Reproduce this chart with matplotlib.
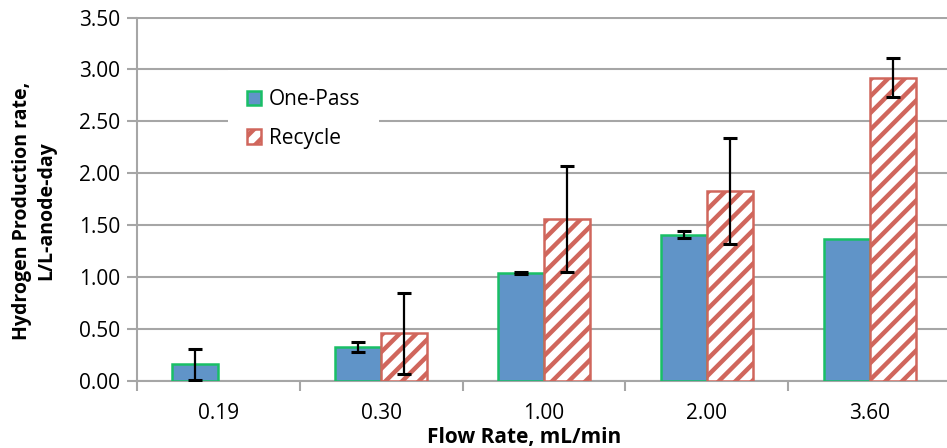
import numpy as np
from matplotlib import pyplot as plt
from matplotlib.patches import Patch

flow_rates = ['0.19', '0.30', '1.00', '2.00', '3.60']
one_pass = [0.16, 0.33, 1.04, 1.41, 1.37]
one_pass_err = [0.15, 0.05, 0.005, 0.03, 0.0]
recycle = [0.0, 0.46, 1.56, 1.83, 2.92]
recycle_err = [0.0, 0.39, 0.51, 0.51, 0.19]

plt.rcParams['font.family'] = ['Open Sans', 'DejaVu Sans']
plt.rcParams['hatch.linewidth'] = 3.2
plt.rcParams['hatch.color'] = '#d0665c'

fig = plt.figure(figsize=(9.47, 4.48), dpi=100)
ax = fig.add_axes([137 / 947, 67 / 448, 814 / 947, 363.5 / 448])

x = np.arange(len(flow_rates))
w = 0.283

blue = '#6094c8'
green = '#19bf66'
red = '#d0665c'
grid = '#a6a6a6'

op = np.array(one_pass)
rc = np.array(recycle)
op_e = np.array(one_pass_err)
rc_e = np.array(recycle_err)
m_op = op > 0
m_rc = rc > 0

ax.bar((x - w / 2)[m_op], op[m_op], w, color=blue, edgecolor=green, linewidth=1.8, zorder=3)
ax.bar((x + w / 2)[m_rc], rc[m_rc], w, color='white', edgecolor=red, hatch='//',
       linewidth=1.8, zorder=3)

# skip error bars that are zero
e1 = op_e > 0
e2 = rc_e > 0
ax.errorbar((x - w / 2)[e1], op[e1], yerr=op_e[e1], fmt='none', ecolor='black',
            elinewidth=1.6, capsize=4.8, capthick=2.2, zorder=4)
ax.errorbar((x + w / 2)[e2], rc[e2], yerr=rc_e[e2], fmt='none', ecolor='black',
            elinewidth=1.6, capsize=4.8, capthick=2.2, zorder=4)

ax.set_xlim(-0.5, len(flow_rates) - 0.5)
ax.set_ylim(0, 3.5)
yt = np.arange(0, 3.51, 0.5)
ax.set_yticks(yt)
ax.set_yticklabels(['%.2f' % v for v in yt])
ax.set_xticks(x)
ax.set_xticklabels(flow_rates)
ax.set_xticks(np.arange(-0.5, len(flow_rates), 1), minor=True)
ax.tick_params(axis='x', which='major', length=0, pad=16, labelsize=15)
ax.tick_params(axis='x', which='minor', length=7, width=1.5, color=grid)
ax.tick_params(axis='y', length=7, width=1.5, color=grid, labelsize=15, pad=5)

ax.yaxis.grid(True, color=grid, linewidth=1.5, zorder=0)
ax.set_axisbelow(True)
for s in ['top', 'right']:
    ax.spines[s].set_visible(False)
for s in ['left', 'bottom']:
    ax.spines[s].set_color(grid)
    ax.spines[s].set_linewidth(1.5)

fig.text(34 / 947, 1 - 211 / 448, 'Hydrogen Production rate,\nL/L-anode-day', fontsize=14,
         fontweight='bold', rotation=90, ha='center', va='center', linespacing=1.25,
         multialignment='center')
fig.text(524 / 947, 1 - 437 / 448, 'Flow Rate, mL/min', fontsize=15, fontweight='bold',
         ha='center', va='center')

handles = [Patch(facecolor=blue, edgecolor=green, linewidth=1.8),
           Patch(facecolor='white', edgecolor=red, hatch='//', linewidth=1.8)]
leg = ax.legend(handles, ['One-Pass', 'Recycle'], loc='upper left',
                bbox_to_anchor=(91 / 814, 1 - 53 / 363.5), fontsize=15,
                handlelength=0.7, handleheight=0.7, handletextpad=0.35,
                labelspacing=0.85, borderpad=0.9, borderaxespad=0,
                frameon=True, facecolor='white', edgecolor='none', framealpha=1,
                fancybox=False)

fig.savefig('out.png', dpi=100)
